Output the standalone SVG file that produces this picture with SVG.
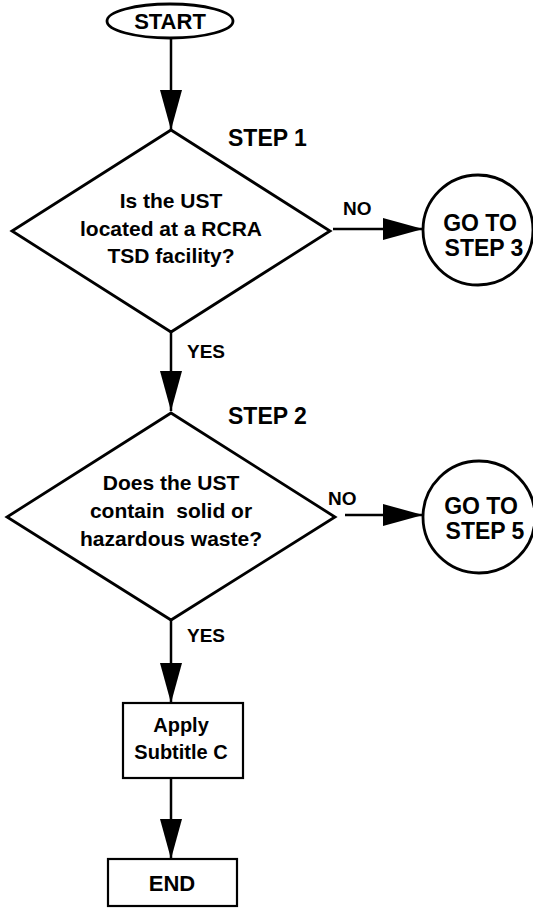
<svg xmlns="http://www.w3.org/2000/svg" width="533" height="909" viewBox="0 0 533 909">
  <style>
    .shape { fill: #ffffff; stroke: #000000; stroke-width: 2.8; }
    .box { fill: #ffffff; stroke: #000000; stroke-width: 2.2; }
    .edge { fill: none; stroke: #000000; stroke-width: 2.5; }
    text { font-family: "Liberation Sans", Arial, sans-serif; font-weight: bold; fill: #000000; white-space: pre; }
    .t { font-size: 21px; text-anchor: middle; }
    .step { font-size: 23px; }
    .lbl { font-size: 19px; }
    .go { font-size: 23px; }
  </style>
  <defs>
    <marker id="arrow" viewBox="0 0 40 22" refX="40" refY="11" markerWidth="40" markerHeight="22" markerUnits="userSpaceOnUse" orient="auto">
      <path d="M0,0 L40,11 L0,22 Z" fill="#000000"/>
    </marker>
  </defs>

  <!-- connectors -->
  <g id="connectors">
    <line class="edge" x1="171" y1="38" x2="171" y2="130" marker-end="url(#arrow)"/>
    <line class="edge" x1="171" y1="332" x2="171" y2="411" marker-end="url(#arrow)"/>
    <line class="edge" x1="333" y1="229" x2="423" y2="229" marker-end="url(#arrow)"/>
    <line class="edge" x1="345" y1="515" x2="423" y2="515" marker-end="url(#arrow)"/>
    <line class="edge" x1="171" y1="620" x2="171" y2="703" marker-end="url(#arrow)"/>
    <line class="edge" x1="171" y1="778" x2="171" y2="859" marker-end="url(#arrow)"/>
    <text class="lbl" x="187" y="358">YES</text>
    <text class="lbl" x="343" y="215">NO</text>
    <text class="lbl" x="328" y="505">NO</text>
    <text class="lbl" x="187" y="642">YES</text>
  </g>

  <g id="start">
    <ellipse class="shape" cx="170" cy="21" rx="63" ry="17"/>
    <text class="t" x="170" y="29" style="font-size:22px">START</text>
  </g>

  <g id="step1">
    <text class="step" x="228" y="146">STEP 1</text>
    <polygon class="shape" points="171,130 330,231 171,332 12,231"/>
    <text class="t" x="171" y="208">Is the UST</text>
    <text class="t" x="171" y="236">located at a RCRA</text>
    <text class="t" x="171" y="263">TSD facility?</text>
  </g>

  <g id="goto3">
    <circle class="shape" cx="478" cy="230" r="55"/>
    <text class="t go" x="480" y="231">GO TO</text>
    <text class="t go" x="484" y="256">STEP 3</text>
  </g>

  <g id="step2">
    <text class="step" x="228" y="424">STEP 2</text>
    <polygon class="shape" points="171,413 335,517 171,620 7,517"/>
    <text class="t" x="171" y="490">Does the UST</text>
    <text class="t" x="171" y="518">contain  solid or</text>
    <text class="t" x="171" y="546">hazardous waste?</text>
  </g>

  <g id="goto5">
    <circle class="shape" cx="479" cy="517" r="56"/>
    <text class="t go" x="481" y="514">GO TO</text>
    <text class="t go" x="485" y="539">STEP 5</text>
  </g>

  <g id="subtitle-c">
    <rect class="box" x="123" y="703" width="120" height="75"/>
    <text class="t" x="181" y="732" style="font-size:20px">Apply</text>
    <text class="t" x="181" y="759" style="font-size:20px">Subtitle C</text>
  </g>

  <g id="end">
    <rect class="box" x="108" y="859" width="129" height="47"/>
    <text class="t" x="172" y="891" style="font-size:22px">END</text>
  </g>
</svg>
